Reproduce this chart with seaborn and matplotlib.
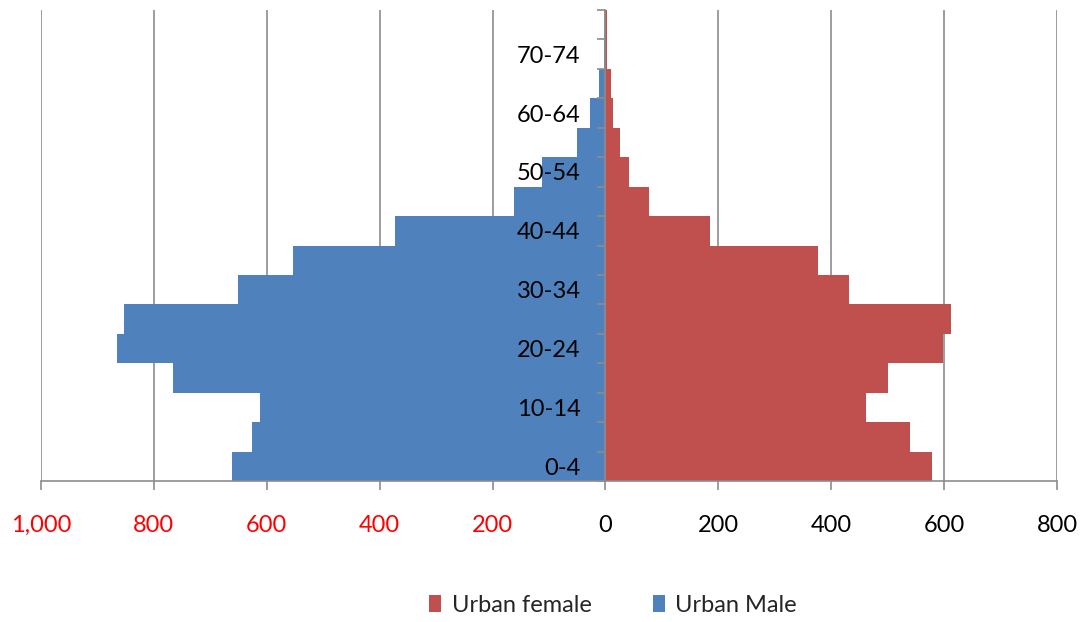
import matplotlib
matplotlib.use("Agg")
import matplotlib.pyplot as plt
import seaborn as sns
import pandas as pd
import numpy as np

ages = ["0-4", "5-9", "10-14", "15-19", "20-24", "25-29", "30-34", "35-39",
        "40-44", "45-49", "50-54", "55-59", "60-64", "65-69", "70-74", "75-79"]
urban_male = [662, 627, 612, 766, 866, 853, 651, 553, 372, 162, 113, 50, 28, 11, 3, 1]
urban_female = [578, 540, 462, 501, 598, 613, 431, 377, 185, 78, 42, 26, 14, 10, 2, 3]
x_ticks = [-1000, -800, -600, -400, -200, 0, 200, 400, 600, 800]

sns.set_theme(style="white")
plt.rcParams['font.family'] = ['Lato', 'DejaVu Sans']

df = pd.DataFrame({
    "age": ages * 2,
    "value": [-v for v in urban_male] + list(urban_female),
    "sex": ["Urban Male"] * len(ages) + ["Urban female"] * len(ages),
})

fig = plt.figure(figsize=(10.89, 6.22), dpi=100)
ax = fig.add_axes([41/1089, 1-481/622, (1057-41)/1089, (481-10)/622])

sns.barplot(data=df, x="value", y="age", hue="sex",
            hue_order=["Urban female", "Urban Male"],
            order=ages[::-1], orient="h", dodge=False, width=1.0,
            palette={"Urban female": "#C0504D", "Urban Male": "#4F81BD"},
            saturation=1, edgecolor="none", linewidth=0, ax=ax)

n = len(ages)
ax.set_xlim(-1000, 800)
ax.set_ylim(n - 0.5, -0.5)
ax.set_xlabel("")
ax.set_ylabel("")

# vertical gridlines behind the bars
ax.vlines(x_ticks, -0.5, n - 0.5, colors="#8C8C8C", linewidth=1.2, zorder=0)
ax.grid(False)

# x ticks
ax.set_xticks(x_ticks)
ax.set_xticklabels([f"{abs(t):,}" for t in x_ticks])
for lab, t in zip(ax.get_xticklabels(), x_ticks):
    lab.set_color("#FF0000" if t < 0 else "black")
ax.tick_params(axis="x", which="major", direction="out", length=6.5,
               width=1.2, color="#8C8C8C", pad=18, bottom=True, labelsize=17)

# y ticks: labels every other category, tick marks at boundaries
order = ages[::-1]
label_ages = [a for i, a in enumerate(ages) if i % 2 == 0]
ax.set_yticks([order.index(a) for a in label_ages])
ax.set_yticklabels(label_ages)
ax.set_yticks(np.arange(-0.5, n, 1.0), minor=True)
ax.tick_params(axis="y", which="major", length=0, pad=18, left=True,
               labelsize=17, labelcolor="black")
ax.tick_params(axis="y", which="minor", length=6, width=1.2, color="#8C8C8C",
               direction="out", left=True)

# spines
for s in ["top", "right"]:
    ax.spines[s].set_visible(False)
ax.spines["left"].set_position(("data", 0))
ax.spines["left"].set_color("#8C8C8C")
ax.spines["left"].set_linewidth(1.2)
ax.spines["bottom"].set_color("#8C8C8C")
ax.spines["bottom"].set_linewidth(1.2)
ax.set_axisbelow(False)

# legend
handles, labels = ax.get_legend_handles_labels()
ax.legend(handles, labels, loc="center", bbox_to_anchor=(613/1089, 1-605/622),
          bbox_transform=fig.transFigure, ncol=2, frameon=False, fontsize=17,
          handlelength=0.5, handleheight=0.75, handletextpad=0.45,
          columnspacing=2.6)

fig.savefig("out.png", dpi=100)
